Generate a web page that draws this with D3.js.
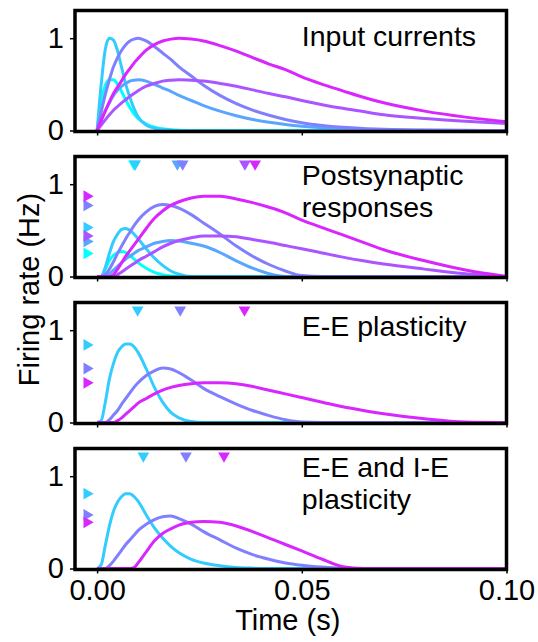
<!DOCTYPE html>
<html>
<head>
<meta charset="utf-8">
<script src="https://cdn.jsdelivr.net/npm/d3@7"></script>
<style>
  body { margin: 0; background: #fff; }
  svg text { font-family: "Liberation Sans", Arial, Helvetica, sans-serif; fill: #000; }
</style>
</head>
<body>
<svg id="chart" width="538" height="642"></svg>
<script>
// sample times (s), shared by every curve
const times = [0, .001, .002, .003, .004, .005, .006, .007, .008, .009, .010, .012, .014, .016, .018, .020,
  .023, .026, .030, .034, .038, .042, .046, .050, .055, .060, .065, .070, .080, .090, .100];

const xTicks = [0, 0.05, 0.1];
const xTickLabels = ["0.00", "0.05", "0.10"];
const yTicks = [0, 1];

const panelTitles = [["Input currents"], ["Postsynaptic", "responses"], ["E-E plasticity"], ["E-E and I-E", "plasticity"]];

// panel 1: input currents
const inputCurves = [
  [0, .30, .49, .55, .55, .50, .42, .33, .25, .18, .13, .07, .035, .018, .008, .004, 0, 0, 0, 0, 0, 0, 0, 0, 0, 0, 0, 0, 0, 0, 0],
  [0, .50, .88, 1.0, .98, .86, .68, .50, .36, .24, .15, .06, .025, .01, .004, .001, 0, 0, 0, 0, 0, 0, 0, 0, 0, 0, 0, 0, 0, 0, 0],
  [0, .11, .215, .30, .38, .435, .48, .51, .535, .545, .55, .535, .50, .46, .425, .38, .325, .27, .21, .16, .12, .09, .066, .047, .03, .019, .012, .008, .003, .001, 0],
  [0, .20, .39, .55, .69, .79, .87, .93, .97, .99, 1.0, .97, .91, .84, .77, .69, .59, .49, .38, .29, .22, .165, .12, .085, .055, .035, .022, .014, .005, .002, 0],
  [0, .06, .115, .17, .22, .26, .30, .335, .37, .40, .43, .48, .51, .535, .545, .55, .545, .535, .51, .48, .44, .40, .365, .325, .28, .24, .205, .17, .13, .10, .075],
  [0, .11, .21, .31, .40, .47, .54, .61, .67, .73, .78, .87, .93, .97, .99, 1.0, .99, .97, .92, .86, .79, .72, .66, .58, .50, .43, .36, .30, .21, .145, .095]
];

// panel 2: postsynaptic responses
const postCurves = [
  [0, 0, .08, .17, .23, .26, .27, .26, .23, .19, .15, .09, .045, .02, .005, 0, 0, 0, 0, 0, 0, 0, 0, 0, 0, 0, 0, 0, 0, 0, 0],
  [0, 0, .10, .25, .38, .46, .51, .52, .50, .46, .41, .30, .20, .12, .06, .025, 0, 0, 0, 0, 0, 0, 0, 0, 0, 0, 0, 0, 0, 0, 0],
  [0, 0, 0, .03, .07, .11, .15, .19, .22, .25, .28, .32, .36, .38, .39, .385, .36, .33, .26, .17, .09, .03, 0, 0, 0, 0, 0, 0, 0, 0, 0],
  [0, 0, .02, .08, .16, .25, .33, .41, .48, .55, .61, .70, .76, .78, .77, .74, .67, .58, .46, .33, .22, .13, .06, .01, 0, 0, 0, 0, 0, 0, 0],
  [0, 0, 0, 0, 0, .02, .05, .08, .11, .14, .17, .22, .27, .32, .36, .39, .42, .44, .44, .43, .40, .37, .335, .30, .255, .21, .17, .135, .08, .03, 0],
  [0, 0, 0, 0, .02, .08, .15, .22, .28, .34, .40, .52, .63, .71, .77, .81, .85, .87, .87, .84, .80, .75, .69, .61, .53, .45, .37, .29, .17, .07, 0]
];
const postPeakTimes = [.0090, .0093, .0196, .0209, .0361, .0386];
const postPeakRates = [.25, .53, .38, .77, .44, .87];

// panel 3: E-E plasticity
const eeCurves = [
  [0, .02, .22, .47, .64, .76, .82, .85, .85, .82, .76, .58, .38, .22, .11, .05, .01, 0, 0, 0, 0, 0, 0, 0, 0, 0, 0, 0, 0, 0, 0],
  [0, 0, 0, .03, .08, .13, .20, .26, .32, .38, .43, .51, .56, .59, .58, .54, .46, .37, .28, .20, .13, .075, .03, .005, 0, 0, 0, 0, 0, 0, 0],
  [0, 0, 0, 0, 0, .02, .05, .09, .13, .17, .21, .26, .31, .35, .38, .40, .42, .43, .43, .42, .39, .35, .31, .27, .22, .17, .13, .095, .04, .005, 0]
];
const eePeakTimes = [.0099, .0203, .0360];
const eePeakRates = [.84, .585, .43];

// panel 4: E-E and I-E plasticity
const eeieCurves = [
  [0, .04, .25, .46, .62, .72, .78, .81, .81, .78, .73, .58, .44, .33, .24, .17, .10, .06, .03, .012, .004, 0, 0, 0, 0, 0, 0, 0, 0, 0, 0],
  [0, 0, 0, .03, .08, .14, .20, .26, .31, .36, .41, .48, .53, .56, .57, .54, .48, .40, .31, .22, .15, .10, .06, .035, .015, .003, 0, 0, 0, 0, 0],
  [0, 0, 0, 0, 0, 0, 0, 0, 0, .01, .06, .18, .30, .38, .43, .47, .50, .51, .50, .46, .40, .33, .26, .19, .10, .02, 0, 0, 0, 0, 0]
];
const eeiePeakTimes = [.0113, .0217, .0310];
const eeiePeakRates = [.81, .58, .50];

const palette = ["#00ffff", "#33ccff", "#59a6ff", "#8080ff", "#aa55ff", "#d926ff"];

const panels = [
  { title: panelTitles[0], curves: inputCurves, colors: [0, 1, 2, 3, 4, 5], peakTimes: [], peakRates: [] },
  { title: panelTitles[1], curves: postCurves, colors: [0, 1, 2, 3, 4, 5], peakTimes: postPeakTimes, peakRates: postPeakRates },
  { title: panelTitles[2], curves: eeCurves, colors: [1, 3, 5], peakTimes: eePeakTimes, peakRates: eePeakRates },
  { title: panelTitles[3], curves: eeieCurves, colors: [1, 3, 5], peakTimes: eeiePeakTimes, peakRates: eeiePeakRates }
];

const svg = d3.select("#chart");
const left = 75, right = 506.5;
const panelH = 120, firstBase = 130.5, panelStep = 146;
const fontSize = 29;
const markerLevel = 1.22;      // rate at which peak-time markers sit
const markerTime = -0.0025;    // time at which peak-rate markers sit

const x = d3.scaleLinear().domain([-0.0054, 0.1]).range([left, right]);

panels.forEach((p, i) => {
  const base = firstBase + panelStep * i;
  const y = d3.scaleLinear().domain([0, 1.3]).range([base, base - panelH]);
  const g = svg.append("g");

  const line = d3.line()
    .x((d, k) => x(times[k]))
    .y(d => y(d))
    .curve(d3.curveMonotoneX);

  g.selectAll("path.curve")
    .data(p.curves)
    .enter()
    .append("path")
    .attr("class", "curve")
    .attr("d", d => line(d))
    .attr("fill", "none")
    .attr("stroke", (d, k) => palette[p.colors[k]])
    .attr("stroke-width", 3)
    .attr("stroke-linejoin", "round");

  // peak time markers (top) and peak rate markers (left)
  const tri = d3.symbol().type(d3.symbolTriangle).size(60);
  g.selectAll("path.ptime")
    .data(p.peakTimes)
    .enter()
    .append("path")
    .attr("class", "ptime")
    .attr("d", tri)
    .attr("transform", d => `translate(${x(d)},${y(markerLevel)}) rotate(180)`)
    .attr("fill", (d, k) => palette[p.colors[k]]);

  g.selectAll("path.prate")
    .data(p.peakRates)
    .enter()
    .append("path")
    .attr("class", "prate")
    .attr("d", tri)
    .attr("transform", d => `translate(${x(markerTime)},${y(d)}) rotate(90)`)
    .attr("fill", (d, k) => palette[p.colors[k]]);

  // axes
  const yAxis = g.append("g")
    .attr("transform", `translate(${left},0)`)
    .call(d3.axisLeft(y).tickValues(yTicks).tickSize(5).tickPadding(6).tickFormat(d3.format("d")));
  const last = i === panels.length - 1;
  const xAxis = g.append("g")
    .attr("transform", `translate(0,${base})`)
    .call(d3.axisBottom(x).tickValues(xTicks).tickSize(5).tickPadding(6)
      .tickFormat((d, k) => last ? xTickLabels[k] : ""));
  [yAxis, xAxis].forEach(a => {
    a.select(".domain").remove();
    a.selectAll(".tick line").attr("stroke", "#000").attr("stroke-width", 1.5);
    a.selectAll("text").style("font-size", fontSize + "px").attr("fill", "#000")
      .style("font-family", '"Liberation Sans", Arial, sans-serif');
  });

  g.append("rect")
    .attr("x", left)
    .attr("y", base - panelH)
    .attr("width", right - left)
    .attr("height", panelH + 1)
    .attr("fill", "none")
    .attr("stroke", "#000")
    .attr("stroke-width", 3.5);

  // panel title, one or two lines
  const twoLines = p.title.length > 1;
  const t = g.append("text")
    .attr("x", x(0.05))
    .attr("y", base - panelH + (twoLines ? 28 : (i === 0 ? 35 : 33)))
    .style("font-size", "28.5px");
  p.title.forEach((s, k) => {
    t.append("tspan").attr("x", x(0.05)).attr("dy", k === 0 ? 0 : 32).text(s);
  });
});

svg.append("text")
  .attr("x", (left + right) / 2 - 3)
  .attr("y", 630)
  .attr("text-anchor", "middle")
  .style("font-size", fontSize + "px")
  .text("Time (s)");

svg.append("text")
  .attr("transform", `translate(39,${(firstBase - panelH + firstBase + panelStep * 3) / 2}) rotate(-90)`)
  .attr("text-anchor", "middle")
  .style("font-size", fontSize + "px")
  .text("Firing rate (Hz)");
</script>
</body>
</html>
